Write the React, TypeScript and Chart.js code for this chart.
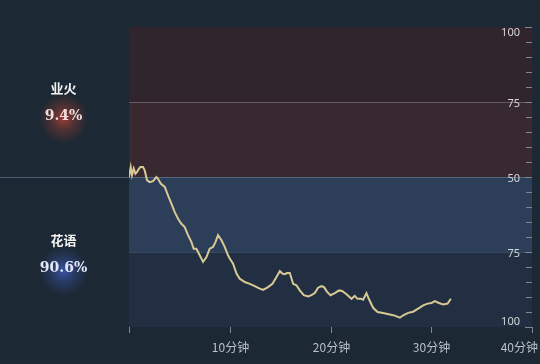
import React, { useEffect, useRef } from "react";
import { Chart, registerables } from "chart.js";

Chart.register(...registerables);

// Match time (minutes) and 业火's win odds (%) at that moment
const minutes = [
  0.0, 0.17, 0.3, 0.47, 0.64, 0.8, 0.96, 1.13, 1.39, 1.56, 1.79, 2.06, 2.38, 2.72, 2.88,
  3.15, 3.55, 3.87, 4.21, 4.54, 4.87, 5.2, 5.53, 5.86, 6.2, 6.42, 6.69, 7.02, 7.35, 7.69,
  8.01, 8.34, 8.58, 8.84, 9.18, 9.5, 9.83, 10.0, 10.33, 10.67, 10.99, 11.49, 11.99, 12.48,
  12.98, 13.31, 13.8, 14.24, 14.64, 14.97, 15.23, 15.46, 15.69, 15.96, 16.29, 16.62, 16.95,
  17.35, 17.78, 18.11, 18.44, 18.77, 19.11, 19.36, 19.66, 20.0, 20.43, 20.85, 21.15, 21.59,
  22.09, 22.41, 22.68, 23.01, 23.24, 23.57, 23.8, 24.23, 24.67, 25.22, 25.89, 26.38, 26.88,
  27.21, 27.71, 28.2, 28.7, 29.2, 29.64, 30.03, 30.36, 30.76, 31.18, 31.62, 31.95,
];
const yehuoOdds = [
  50.0, 53.3, 50.6, 52.8, 51.1, 51.7, 52.6, 53.3, 53.3, 52.2, 48.9, 48.3, 48.6, 50.0, 49.4,
  47.8, 46.7, 43.9, 41.1, 38.3, 36.1, 34.4, 33.3, 30.6, 28.3, 26.1, 26.1, 23.9, 21.7, 23.3,
  26.1, 26.7, 28.3, 30.6, 28.9, 26.7, 23.9, 22.8, 21.1, 17.8, 16.1, 15.0, 14.4, 13.6,
  12.8, 12.4, 13.3, 14.4, 16.7, 18.6, 17.8, 17.6, 18.0, 18.0, 14.4, 13.9, 12.2,
  10.6, 10.2, 10.6, 11.3, 13.1, 13.6, 13.3, 11.7, 10.6, 11.3, 12.2, 12.0, 10.9,
  9.4, 10.4, 9.4, 9.4, 9.1, 11.3, 9.4, 6.4, 5.0, 4.7, 4.2, 3.8, 3.1,
  3.9, 4.7, 5.1, 6.1, 7.2, 7.8, 8.0, 8.6, 8.0, 7.5, 7.8, 9.4,
];

const teamNames = ["业火", "花语"];
const teamShares = ["9.4%", "90.6%"];
const xTicks = [0, 10, 20, 30, 40];
const xTickLabels = ["", "10分钟", "20分钟", "30分钟", "40分钟"];
const yTickValues = [100, 75, 50, 25, 0];
const yTickLabels = ["100", "75", "50", "75", "100"];

const overlay = {
  id: "oddsOverlay",
  beforeDraw(chart: any) {
    const { ctx, chartArea: a, scales } = chart;
    const y = scales.y;
    const W = chart.width;
    const H = chart.height;
    ctx.save();
    ctx.fillStyle = "#1c2833";
    ctx.fillRect(0, 0, W, H);

    const y100 = y.getPixelForValue(100);
    const y75 = y.getPixelForValue(75);
    const y50 = y.getPixelForValue(50);
    const y25 = y.getPixelForValue(25);
    const y0 = y.getPixelForValue(0);
    const w = a.right - a.left;
    ctx.fillStyle = "#30252c";
    ctx.fillRect(a.left, y100, w, y75 - y100);
    ctx.fillStyle = "#38282f";
    ctx.fillRect(a.left, y75, w, y50 - y75);
    ctx.fillStyle = "#2c3e58";
    ctx.fillRect(a.left, y50, w, y25 - y50);
    ctx.fillStyle = "#222f43";
    ctx.fillRect(a.left, y25, w, y0 - y25);

    // guide lines
    ctx.lineWidth = 1;
    ctx.strokeStyle = "rgba(150,130,140,0.55)";
    ctx.beginPath();
    ctx.moveTo(a.left, Math.round(y75) + 0.5);
    ctx.lineTo(a.right, Math.round(y75) + 0.5);
    ctx.stroke();
    ctx.strokeStyle = "rgba(110,130,150,0.6)";
    ctx.beginPath();
    ctx.moveTo(0, Math.round(y50) + 0.5);
    ctx.lineTo(a.right, Math.round(y50) + 0.5);
    ctx.stroke();
    ctx.strokeStyle = "rgba(60,80,105,0.8)";
    ctx.beginPath();
    ctx.moveTo(a.left, Math.round(y25) + 0.5);
    ctx.lineTo(a.right, Math.round(y25) + 0.5);
    ctx.stroke();

    // team panels with glows
    const cx = a.left / 2 - 1;
    const panels = [
      { nameY: y.getPixelForValue(79.6), shareY: y.getPixelForValue(70.2), glow: "rgba(205,70,50," },
      { nameY: y.getPixelForValue(29), shareY: y.getPixelForValue(19.4), glow: "rgba(70,100,215," },
    ];
    panels.forEach((p, i) => {
      const g = ctx.createRadialGradient(cx, p.shareY + 2, 0, cx, p.shareY + 2, 25);
      g.addColorStop(0, p.glow + "0.7)");
      g.addColorStop(0.45, p.glow + "0.3)");
      g.addColorStop(1, p.glow + "0)");
      ctx.fillStyle = g;
      ctx.fillRect(cx - 30, p.shareY - 28, 60, 60);
      ctx.textAlign = "center";
      ctx.textBaseline = "middle";
      ctx.fillStyle = "#f2f2f2";
      ctx.font = "bold 13px 'Noto Sans CJK SC'";
      ctx.fillText(teamNames[i], cx, p.nameY);
      ctx.fillStyle = i === 0 ? "#f4dcdc" : "#e2e8f8";
      ctx.font = "bold 14px 'DejaVu Serif'";
      ctx.fillText(teamShares[i], cx, p.shareY);
    });
    ctx.restore();
  },
  afterDraw(chart: any) {
    const { ctx, chartArea: a, scales } = chart;
    const x = scales.x;
    const y = scales.y;
    ctx.save();
    ctx.strokeStyle = "#7d8894";
    ctx.lineWidth = 1;
    // y minor/major ticks on the right edge
    for (let v = 0; v <= 100; v += 5) {
      const py = Math.round(y.getPixelForValue(v)) + 0.5;
      ctx.beginPath();
      ctx.moveTo(a.right - (v % 25 === 0 ? 7 : 6), py);
      ctx.lineTo(a.right, py);
      ctx.stroke();
    }
    ctx.fillStyle = "#d2d6da";
    ctx.font = "11px 'Noto Sans'";
    ctx.textAlign = "right";
    yTickValues.forEach((v, i) => {
      let py = y.getPixelForValue(v) + 1.5;
      if (v === 100) py = a.top + 6;
      if (v === 0) py = a.bottom - 5;
      ctx.textBaseline = "middle";
      ctx.fillText(yTickLabels[i], a.right - 12, py);
    });
    // x ticks below the plot
    xTicks.forEach((t, i) => {
      const px = Math.round(x.getPixelForValue(t)) + 0.5;
      ctx.beginPath();
      ctx.moveTo(px, a.bottom);
      ctx.lineTo(px, a.bottom + 6);
      ctx.stroke();
      if (!xTickLabels[i]) return;
      ctx.fillStyle = "#b9c0c8";
      ctx.font = "12px 'Noto Sans CJK SC'";
      ctx.textBaseline = "middle";
      if (i === xTicks.length - 1) {
        ctx.textAlign = "right";
        ctx.fillText(xTickLabels[i], chart.width - 2, a.bottom + 20);
      } else {
        ctx.textAlign = "center";
        ctx.fillText(xTickLabels[i], px, a.bottom + 20);
      }
    });
    ctx.restore();
  },
};

export default function App() {
  const ref = useRef<HTMLCanvasElement>(null);
  useEffect(() => {
    if (!ref.current) return;
    const chart = new Chart(ref.current, {
      type: "line",
      data: {
        datasets: [
          {
            data: minutes.map((m, i) => ({ x: m, y: yehuoOdds[i] })),
            borderColor: "#d8c994",
            borderWidth: 2,
            pointRadius: 0,
            tension: 0,
            fill: false,
          },
        ],
      },
      options: {
        responsive: false,
        animation: false,
        layout: { padding: { left: 129, top: 27, right: 8, bottom: 37 } },
        scales: {
          x: { type: "linear", min: 0, max: 40, display: false },
          y: { min: 0, max: 100, display: false },
        },
        plugins: { legend: { display: false }, tooltip: { enabled: false } },
      },
      plugins: [overlay],
    });
    return () => chart.destroy();
  }, []);
  return (
    <div style={{ position: "absolute", left: 0, top: 0, width: 540, height: 364 }}>
      <canvas ref={ref} width={540} height={364} style={{ display: "block" }} />
    </div>
  );
}
